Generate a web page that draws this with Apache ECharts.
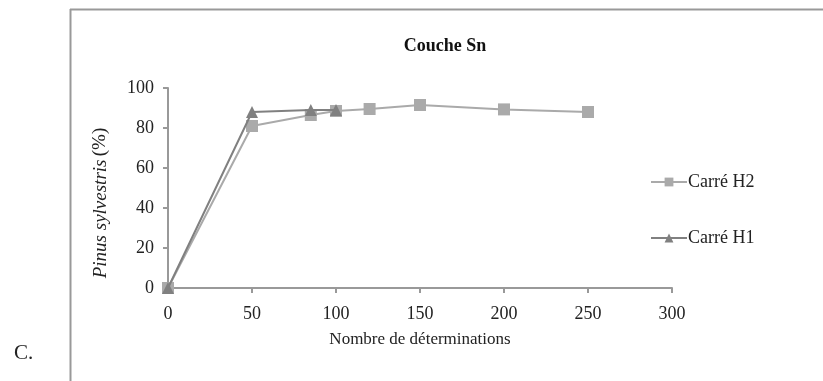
<!DOCTYPE html>
<html><head><meta charset="utf-8">
<script src="https://cdn.jsdelivr.net/npm/echarts@6/dist/echarts.min.js"></script>
<style>html,body{margin:0;padding:0;background:#fff}#c{width:823px;height:381px}</style>
</head><body><div id="c"></div>
<script>
var xH2 = [0, 50, 85, 100, 120, 150, 200, 250];
var yH2 = [0, 81, 86.5, 88.5, 89.5, 91.5, 89.3, 88];
var xH1 = [0, 50, 85, 100];
var yH1 = [0, 88, 89, 89];
var xTicks = [0, 50, 100, 150, 200, 250, 300];
var yTicks = [0, 20, 40, 60, 80, 100];
var FONT = '"Liberation Serif", "DejaVu Serif", serif';

function pairs(xs, ys){ return xs.map(function(x,i){ return [x, ys[i]]; }); }

var chart = echarts.init(document.getElementById('c'));
chart.setOption({
  animation: false,
  backgroundColor: '#fff',
  title: { text: 'Couche Sn', left: 440, top: 32, textAlign: 'center',
    textStyle: { fontFamily: FONT, fontSize: 18, fontWeight: 'bold', color: '#111' } },
  grid: { left: 168, right: 151, top: 88, bottom: 93 },
  legend: {
    orient: 'vertical', left: 645, top: 168, itemGap: 38, itemWidth: 36, itemHeight: 11,
    data: ['Carré H2', 'Carré H1'],
    textStyle: { fontFamily: FONT, fontSize: 18, color: '#222', padding: [0,0,0,-4] }
  },
  xAxis: {
    type: 'value', min: 0, max: 300, interval: 50,
    name: 'Nombre de déterminations', nameLocation: 'middle', nameGap: 43, nameMoveOverlap: false,
    nameTextStyle: { fontFamily: FONT, fontSize: 17, color: '#222' },
    axisLine: { lineStyle: { color: '#999', width: 2 } },
    axisTick: { show: true, length: 5, lineStyle: { color: '#999', width: 2 } },
    axisLabel: { fontFamily: FONT, fontSize: 18, color: '#222', margin: 17,
      formatter: function(v){ return xTicks.indexOf(v) >= 0 ? String(v) : ''; } },
    splitLine: { show: false }
  },
  yAxis: {
    type: 'value', min: 0, max: 100, interval: 20,
    name: '{i|Pinus sylvestris} {n|(%)}', nameLocation: 'middle', nameGap: 58, nameMoveOverlap: false,
    nameTextStyle: { padding: [0, 30, 0, 0], rich: {
      i: { fontFamily: FONT, fontSize: 19, fontStyle: 'italic', color: '#222' },
      n: { fontFamily: FONT, fontSize: 19, color: '#222' } } },
    axisLine: { show: true, lineStyle: { color: '#999', width: 2 } },
    axisTick: { show: true, length: 5, lineStyle: { color: '#999', width: 2 } },
    axisLabel: { fontFamily: FONT, fontSize: 18, color: '#222', margin: 14,
      formatter: function(v){ return yTicks.indexOf(v) >= 0 ? String(v) : ''; } },
    splitLine: { show: false }
  },
  series: [
    { name: 'Carré H2', type: 'line', data: pairs(xH2, yH2), symbol: 'rect', symbolSize: 12,
      itemStyle: { color: '#aaaaaa' }, lineStyle: { color: '#aaaaaa', width: 2 }, z: 2 },
    { name: 'Carré H1', type: 'line', data: pairs(xH1, yH1), symbol: 'triangle', symbolSize: 12,
      itemStyle: { color: '#808080' }, lineStyle: { color: '#808080', width: 2 }, z: 3 }
  ],
  graphic: [
    { type: 'line', shape: { x1: 70, y1: 9.5, x2: 823, y2: 9.5 }, style: { stroke: '#999', lineWidth: 2 } },
    { type: 'line', shape: { x1: 70.5, y1: 9, x2: 70.5, y2: 381 }, style: { stroke: '#999', lineWidth: 2 } },
    { type: 'text', left: 14, top: 343, style: { text: 'C.', font: '21px ' + FONT, fill: '#222' } }
  ]
});
</script></body></html>
